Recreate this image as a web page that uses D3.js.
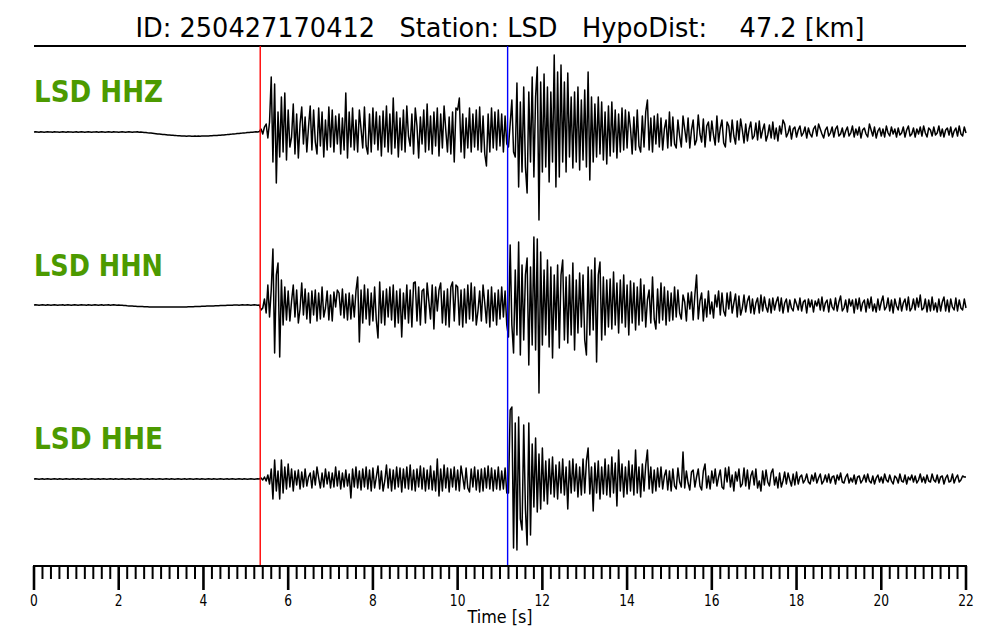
<!DOCTYPE html>
<html>
<head>
<meta charset="utf-8">
<script src="https://cdn.jsdelivr.net/npm/d3@7"></script>
<style>
  html, body { margin: 0; padding: 0; background: #fff; }
  svg { display: block; }
  text { font-family: "DejaVu Sans", sans-serif; }
</style>
</head>
<body>
<svg id="chart" width="1000" height="640"></svg>
<script>
// ---------------- DATA ----------------
const titleText = "ID: 250427170412   Station: LSD   HypoDist:    47.2 [km]";
const channels = ["LSD HHZ", "LSD HHN", "LSD HHE"];
const sampleInterval = 0.04;          // seconds between samples
const pickP = 5.34;                   // red line [s]
const pickS = 11.18;                  // blue line [s]
const majorTicks = [0, 2, 4, 6, 8, 10, 12, 14, 16, 18, 20, 22];
const tickLabels = ["0", "2", "4", "6", "8", "10", "12", "14", "16", "18", "20", "22"];
const axisLabel = "Time [s]";

// amplitudes (relative units, positive = up), one sample every 0.04 s from 0 s
const hhz = [
0,0.2,0,-0.2,0.2,0,-0.2,0,0.2,0,
0,-0.2,0.2,0,0,-0.2,0,0.2,0,-0.2,
0.2,0,0,-0.2,0,0.2,-0.2,0,0.2,0,
-0.2,0,0.2,0,-0.2,0,0,0.2,-0.2,0,
0.2,0,-0.2,0,0.2,0,-0.2,0.2,0,0,
-0.2,0,0.2,0,-0.2,0,0.2,0,-0.2,0,
0,0.2,-0.2,0,-0.2,-0.4,-0.6,-0.8,-0.9,-1.1,
-1.3,-1.5,-1.7,-2,-2.1,-2.3,-2.5,-2.6,-2.8,-3,
-3,-3.2,-3.3,-3.4,-3.6,-3.7,-3.8,-3.9,-3.9,-4,
-4.2,-4,-4.1,-4.2,-4.2,-4.1,-4.2,-4.1,-4.2,-4,
-4.1,-4,-3.9,-3.9,-3.8,-3.7,-3.6,-3.5,-3.4,-3.3,
-3.2,-3.0,-2.9,-2.7,-2.6,-2.4,-2.2,-2.1,-1.9,-1.8,
-1.6,-1.4,-1.2,-1.1,-0.9,-0.8,-0.6,-0.5,-0.3,-0.2,
0,0.2,0,0.5,3,-2,5,8,-6,10,
55,-30,48,-51,20,-25,35,-20,39,-28,
22,-15,-5,28,-22,18,-26,8,25,-12,
15,-20,5,26,-18,22,-10,-22,24,-14,
20,-25,12,-18,25,-15,22,-20,16,-12,
18,-22,14,-18,39,-26,20,-15,24,-18,
12,-20,22,3,-16,25,-14,-22,18,-20,
24,-12,20,-18,16,-24,21,-15,26,-20,
18,-22,34,-16,20,-25,14,-18,22,-20,
26,-4,-14,18,-22,24,6,-26,15,-12,
22,-20,28,-18,16,-22,20,-14,24,-24,
18,-16,26,2,-20,15,-22,20,-30,24,
22,34,-20,18,-26,14,-16,24,-20,18,
-15,22,-18,25,-20,16,-22,-34,18,-20,
24,-16,20,-18,22,-14,18,-20,16,-12,
-15,8,32,-20,-25,49,-55,30,-40,45,
-35,-61,40,-30,55,-45,35,65,-88,50,
-40,58,-35,45,-50,40,-30,77,-55,60,
-45,67,-30,50,-40,59,-25,35,-36,40,
-30,45,-38,32,-28,42,-35,60,-48,35,
-30,28,-25,35,-22,30,-28,20,-32,26,
-24,30,-20,22,-26,18,-20,24,-18,22,
-16,20,4,-22,15,-18,22,-14,-20,16,
-15,20,32,-18,14,-20,16,-12,18,-15,
14,-18,3,12,-16,20,-14,15,-12,-16,
12,-4,-15,16,3,-10,14,-16,2,12,
-13,-8,17,-2,-10,13,-15,6,10,-9,
11,-3,-13,16,-10,4,12,-11,-15,10,
6,-10,12,-4,-12,11,-8,13,2,-11,
8,-9,3,10,-7,-4,9,-8,11,-6,
2,8,-9,-3,7,-6,10,-7,4,-9,
6,-2,12,8,-5,-1,6,-7,3,5,
-5,2,6,-4,-1,5,-6,4,-2,-5,
3,6,-4,8,3,-2,-6,2,5,-4,
-1,5,-5,3,6,-4,-2,4,-5,1,
5,-4,-1,6,-5,3,-3,5,-6,2,
4,-2,-5,8,2,-4,5,-6,1,4,
-4,3,-5,6,-1,-4,5,-2,3,-5,
4,-3,-1,5,-5,2,6,-4,-2,4,
-5,3,-2,5,-4,6,-1,-5,4,2,
-4,5,-3,-1,6,-4,3,-5,2,4,
-3,5,-5,1,4,-4,6,-2,-4,5,
-1
];

const hhn = [
0,0.2,0,-0.2,0,0.2,0,-0.2,0.2,0,
-0.2,0,0.2,0,-0.2,0,0,0.2,-0.2,0,
0.2,0,-0.2,0,0.2,0,-0.2,0,0.2,0,
0,-0.2,0.2,0,-0.2,0,0.2,0,-0.2,0,
0.2,-0.2,0,0,0.2,-0.2,0,0.2,0,-0.2,
0,-0.2,-0.3,-0.5,-0.6,-0.8,-0.9,-1,-1.1,-1.2,
-1.3,-1.4,-1.5,-1.6,-1.6,-1.7,-1.8,-1.8,-1.9,-2,
-1.9,-2,-2.1,-2,-1.9,-2,-2.1,-2,-1.9,-2,
-2.1,-2,-1.9,-2,-2,-1.9,-2,-2.1,-2,-1.9,
-1.9,-1.8,-1.8,-1.7,-1.7,-1.6,-1.5,-1.5,-1.4,-1.3,
-1.3,-1.2,-1.1,-1.1,-1,-0.9,-0.9,-0.8,-0.7,-0.7,
-0.6,-0.5,-0.5,-0.4,-0.3,-0.3,-0.2,-0.2,-0.1,0,
0,-0.2,0,0.2,0,0,0.2,0,-0.2,0,
0.2,0,-0.2,0,-5,-3,6,-8,20,-12,
15,56,-48,30,42,-52,25,-20,18,-15,
14,-16,4,20,-12,15,-18,-4,22,-10,
16,-14,12,-18,14,-10,15,-16,12,-14,
18,-12,-3,14,-15,10,-16,13,-2,15,
12,-10,16,-13,11,-15,12,-14,10,-12,
14,28,-37,15,-18,20,-14,16,-20,12,
-16,18,-15,-33,23,-18,14,-20,16,-12,
18,-15,20,-22,14,-18,16,-32,12,-14,
20,-18,15,-22,22,23,-16,18,-20,14,
16,-18,22,4,-14,20,-24,18,-6,15,
22,-18,14,-20,16,-22,18,23,-16,20,
18,-20,15,-22,16,-18,20,-14,22,-16,
18,-20,-6,14,-16,20,2,-18,15,-22,
18,-16,12,-20,15,-14,18,-12,14,-20,
-32,60,-20,-48,35,-30,63,-50,40,-35,
30,47,-60,38,-40,68,-45,66,-88,53,
-40,35,-30,45,-42,38,-53,30,-25,40,
-43,30,45,-35,28,-38,30,-30,42,-45,
25,-28,32,-22,30,-35,-50,38,-30,35,
-25,47,-57,30,43,-35,28,-30,25,-22,
26,-24,33,-20,22,-28,25,-18,30,-22,
20,-30,24,-18,22,-25,18,-20,26,-16,
20,-22,5,15,-18,28,-14,-24,16,-18,
22,-15,18,-20,14,-16,12,-15,18,-12,
15,-8,-14,10,3,-16,12,-4,13,-15,
10,30,-14,4,12,-16,6,-12,14,-9,
3,-13,10,-2,14,-10,12,-6,-11,12,
-4,13,-8,2,11,-12,9,-10,-3,10,
-7,4,9,-8,6,-9,2,7,-8,10,
-6,8,-2,-7,6,-8,7,-5,3,8,
-6,7,-8,2,6,-7,5,-3,-6,6,
1,-5,7,-6,3,5,-8,6,-2,5,
-7,4,-1,6,-5,8,-6,2,5,-7,
6,-2,-5,7,-6,3,9,-6,-3,5,
-7,6,-1,5,-8,6,-4,7,-6,2,
5,-7,6,-3,8,-6,1,-7,6,-5,
3,9,-5,-2,7,-6,5,-8,6,-1,
-5,7,-6,2,6,-5,8,-6,-3,6,
-5,7,-2,10,-5,-3,6,-7,5,-6,
8,-5,2,-7,6,-6,3,8,-6,5,
-7,6,-2,-5,7,-6,5,-3,-5,6,
-3
];

const hhe = [
0,0.2,0,-0.2,0,0.2,-0.2,0,0.2,0,
-0.2,0,0.2,0,-0.2,0.2,0,-0.2,0,0.2,
0,-0.2,0,0.2,0,-0.2,0.2,0,-0.2,0,
0.2,0,-0.2,0,0.2,0,-0.2,0,0.2,-0.2,
0,0.2,0,-0.2,0,0.2,0,-0.2,0.2,0,
-0.2,0,0.2,0,-0.2,0,0.2,-0.2,0,0.2,
0,-0.2,0,0.2,0,-0.2,0,0.2,-0.2,0,
0.2,0,-0.2,0,0.2,0,-0.2,0,0.2,0,
-0.2,0.2,0,-0.2,0,0.2,0,-0.2,0,0.2,
-0.2,0,0.2,0,-0.2,0,0.2,0,-0.2,0.2,
0,-0.2,0,0.2,0,-0.2,0.2,0,-0.2,0,
0.2,0,-0.2,0,0.2,-0.2,0,0.2,0,-0.2,
0,0.2,0,-0.2,0.2,0,-0.2,0,0.2,0,
-0.2,0,0.2,0,1,-1,2,-2,4,-5,
10,-20,19,-12,8,-20,19,-14,12,-10,
15,-8,10,-12,8,-6,9,-10,7,-8,
10,-7,2,6,-9,8,-6,12,1,-9,
6,-8,10,-5,7,-9,6,-8,12,-7,
8,-10,6,-8,9,-7,5,-19,10,-8,
12,-9,8,-11,10,-8,12,-10,9,-12,
11,-9,2,13,-10,8,-12,-2,14,-9,
10,-12,9,-10,12,-8,11,-13,10,-9,
12,-10,14,-11,9,-12,10,-8,13,-10,
11,-12,9,-10,13,-11,8,-12,20,-17,
10,-12,14,-9,11,-13,10,-8,12,-11,
9,-12,13,2,-10,11,-9,-13,10,-8,
12,-11,9,-13,10,-12,11,-9,13,-10,
11,-12,9,-10,12,-11,8,-10,11,-14,
-14,69,72,-69,56,-71,62,-40,-51,54,
-30,-66,56,-56,35,-28,41,-33,25,-30,
31,-22,18,-25,20,-15,22,-18,14,-20,
17,-14,20,-16,12,-30,18,-14,20,-12,
15,-18,12,-16,20,-14,18,31,-15,12,
-32,16,-14,18,-20,12,-15,20,-16,14,
-18,22,-14,16,-27,29,-12,15,-18,12,
-15,18,-12,14,-16,29,-14,12,-18,15,
-12,14,29,-10,12,-14,9,-12,11,-8,
12,-10,3,9,-11,8,-12,10,-7,-10,
11,-3,-8,27,-9,8,-4,-11,7,9,
-8,2,10,-7,-11,8,15,-9,3,-10,
8,-4,10,-7,2,9,-8,-10,11,-3,
12,-8,4,-12,7,-2,10,-8,-5,11,
-7,9,-10,3,8,-6,10,-9,-2,-12,
8,-6,9,-3,-7,6,10,-6,2,-9,
6,-8,-2,7,-5,6,-1,-7,5,-6,
7,-5,2,4,-4,-1,5,-3,-5,4,
-2,6,-4,1,5,-5,-2,4,-3,5,
-4,2,3,-5,4,-1,6,-3,-4,2,
5,-4,1,-3,4,-5,2,3,-4,-1,
4,-3,5,-2,-4,3,-5,1,4,-3,
2,-4,5,-1,-3,4,-2,-5,3,1,
-4,5,-2,-3,4,-5,2,-1,4,-3,
3,-4,-1,5,-3,2,-4,4,-2,-3,
5,-1,-3,4,-4,2,3,-5,1,4,
-3,-2,5,-4,1,4,-3,-1,3,2,
2
];

const traces = [hhz, hhn, hhe];

// ---------------- LAYOUT ----------------
const svg = d3.select("#chart");
const left = 34, right = 966;
const topLine = 46, axisY = 566;
const traceCenters = [132, 305, 479];
const labelBaselines = [102, 276, 449];
const green = "#4c9a00";

const x = d3.scaleLinear().domain([0, 22]).range([left, right]);

// title
svg.append("text")
  .attr("x", 500).attr("y", 37)
  .attr("text-anchor", "middle")
  .attr("font-size", 26)
  .attr("textLength", 729)
  .attr("lengthAdjust", "spacingAndGlyphs")
  .style("white-space", "pre")
  .attr("xml:space", "preserve")
  .attr("fill", "#000")
  .text(titleText);

// top rule
svg.append("line")
  .attr("x1", left).attr("x2", right)
  .attr("y1", topLine).attr("y2", topLine)
  .attr("stroke", "#000").attr("stroke-width", 1.8);

// traces
traces.forEach((vals, k) => {
  const y = d3.scaleLinear().domain([-100, 100])
    .range([traceCenters[k] + 100, traceCenters[k] - 100]);
  const line = d3.line()
    .x((d, i) => x(i * sampleInterval))
    .y(d => y(d));
  svg.append("path")
    .datum(vals)
    .attr("d", line)
    .attr("fill", "none")
    .attr("stroke", "#000")
    .attr("stroke-width", 1.5)
    .attr("stroke-linejoin", "round");

  svg.append("text")
    .attr("x", left).attr("y", labelBaselines[k])
    .attr("font-size", 30)
    .attr("font-weight", "bold")
    .attr("fill", green)
    .attr("textLength", 129)
    .attr("lengthAdjust", "spacingAndGlyphs")
    .text(channels[k]);
});

// picks
svg.append("line")
  .attr("x1", x(pickP)).attr("x2", x(pickP))
  .attr("y1", topLine).attr("y2", axisY)
  .attr("stroke", "#ff0000").attr("stroke-width", 1.4);
svg.append("line")
  .attr("x1", x(pickS)).attr("x2", x(pickS))
  .attr("y1", topLine).attr("y2", axisY)
  .attr("stroke", "#0000ff").attr("stroke-width", 1.4);

// axis
const minorTicks = d3.range(0, 111).map(i => i / 5).filter(v => !majorTicks.includes(v));
const axisG = svg.append("g").attr("transform", `translate(0,${axisY})`);

axisG.append("line")
  .attr("x1", left - 1).attr("x2", right + 1)
  .attr("y1", 0).attr("y2", 0)
  .attr("stroke", "#000").attr("stroke-width", 2);

axisG.selectAll(".minor").data(minorTicks).enter().append("line")
  .attr("x1", d => x(d)).attr("x2", d => x(d))
  .attr("y1", 0).attr("y2", 13)
  .attr("stroke", "#000").attr("stroke-width", 2);

axisG.selectAll(".major").data(majorTicks).enter().append("line")
  .attr("x1", d => x(d)).attr("x2", d => x(d))
  .attr("y1", 0).attr("y2", 24)
  .attr("stroke", "#000").attr("stroke-width", 2.6);

axisG.selectAll(".lbl").data(majorTicks).enter().append("text")
  .attr("x", d => x(d)).attr("y", 40)
  .attr("text-anchor", "middle")
  .attr("font-size", 15.5)
  .attr("textLength", (d, i) => tickLabels[i].length * 7.8)
  .attr("lengthAdjust", "spacingAndGlyphs")
  .attr("fill", "#000")
  .text((d, i) => tickLabels[i]);

svg.append("text")
  .attr("x", 500).attr("y", 623)
  .attr("text-anchor", "middle")
  .attr("font-size", 17)
  .attr("textLength", 65)
  .attr("lengthAdjust", "spacingAndGlyphs")
  .attr("fill", "#000")
  .text(axisLabel);
</script>
</body>
</html>
